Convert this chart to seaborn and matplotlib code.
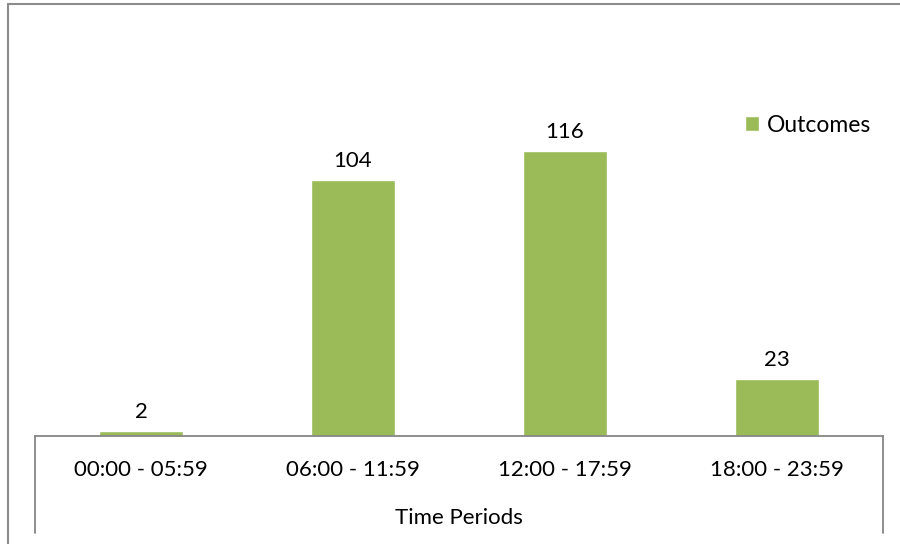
import matplotlib
matplotlib.use("Agg")
import matplotlib.pyplot as plt
from matplotlib.lines import Line2D
import pandas as pd
import seaborn as sns

periods = ["00:00 - 05:59", "06:00 - 11:59", "12:00 - 17:59", "18:00 - 23:59"]
outcomes = [2, 104, 116, 23]
series_name = "Outcomes"
x_title = "Time Periods"

BAR_GREEN = "#9BBB59"
AXIS_GRAY = "#868686"
FS = 16

sns.set_theme(style="white")
plt.rcParams["font.family"] = ["Lato", "DejaVu Sans"]
plt.rcParams["text.color"] = "black"

df = pd.DataFrame({"period": periods, "value": outcomes})

W, H = 900, 544
fig = plt.figure(figsize=(W / 100, H / 100), dpi=100)
ax = fig.add_axes([35 / W, (H - 436) / H, (883 - 35) / W, (436 - 92) / H])

sns.barplot(data=df, x="period", y="value", color=BAR_GREEN, width=0.4,
            saturation=1, label=series_name, ax=ax)
ax.set_ylim(0, 140)
ax.set_xlim(-0.5, len(periods) - 0.5)

ax.bar_label(ax.containers[0], padding=6.5, fontsize=FS)

for side in ["top", "left", "right"]:
    ax.spines[side].set_visible(False)
ax.spines["bottom"].set_color(AXIS_GRAY)
ax.spines["bottom"].set_linewidth(1.3)
ax.set_yticks([])
ax.set_ylabel("")
ax.tick_params(axis="x", length=0, pad=17, labelsize=FS, labelcolor="black")

ax.set_xlabel(x_title, fontsize=FS, color="black")
ax.xaxis.set_label_coords(0.5, -(518 - 436) / (436 - 92))
ax.xaxis.label.set_verticalalignment("center")

# category axis end lines dropping below the axis
for xe in [0, 1]:
    ax.add_line(Line2D([xe, xe], [0, -(533 - 436) / (436 - 92)], transform=ax.transAxes,
                       color=AXIS_GRAY, lw=1.3, clip_on=False))

leg = ax.legend(loc="center left", bbox_to_anchor=((745 - 35) / (883 - 35), (436 - 125) / (436 - 92)),
                frameon=False, fontsize=16.5, handlelength=0.6, handleheight=0.6,
                handletextpad=0.35, borderpad=0, borderaxespad=0)

# chart area border (left and top visible)
fig.add_artist(Line2D([8 / W, 8 / W], [0, 1 - 4 / H], color="#8C8C8C", lw=1.5))
fig.add_artist(Line2D([8 / W, 1], [1 - 4 / H, 1 - 4 / H], color="#8C8C8C", lw=1.5))

fig.savefig("out.png", dpi=100)
